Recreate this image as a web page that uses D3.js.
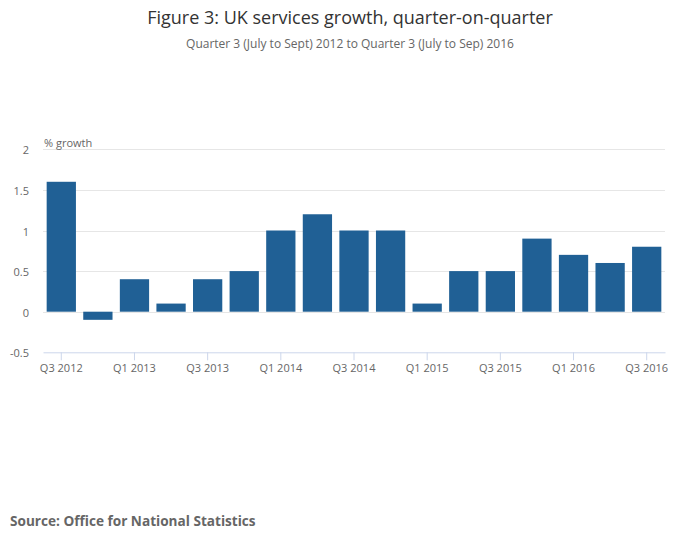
<!DOCTYPE html>
<html><head><meta charset="utf-8">
<script src="https://cdn.jsdelivr.net/npm/d3@7"></script>
<style>
body{margin:0;background:#fff;font-family:"Open Sans",sans-serif;}
</style></head>
<body><svg id="chart" width="700" height="549"></svg>
<script>
const categories = ["Q3 2012","Q4 2012","Q1 2013","Q2 2013","Q3 2013","Q4 2013","Q1 2014","Q2 2014","Q3 2014","Q4 2014","Q1 2015","Q2 2015","Q3 2015","Q4 2015","Q1 2016","Q2 2016","Q3 2016"];
const values = [1.6,-0.1,0.4,0.1,0.4,0.5,1.0,1.2,1.0,1.0,0.1,0.5,0.5,0.9,0.7,0.6,0.8];
const tickLabels = ["Q3 2012","Q1 2013","Q3 2013","Q1 2014","Q3 2014","Q1 2015","Q3 2015","Q1 2016","Q3 2016"];
const yTicks = [-0.5,0,0.5,1,1.5,2];

(function(){
const svg = d3.select("#chart");
const pL = 43, pR = 665, pT = 149.3, pB = 352.3;

const x = d3.scaleBand().domain(categories).range([pL, pR]).paddingInner(0.2).paddingOuter(0.1);
const xc = d3.scaleBand().domain(categories).range([pL, pR]);
const y = d3.scaleLinear().domain([-0.5, 2]).range([pB, pT]);

svg.append("text").attr("x",350).attr("y",24).attr("text-anchor","middle")
  .attr("font-size",18).attr("fill","#333").text("Figure 3: UK services growth, quarter-on-quarter");
svg.append("text").attr("x",350).attr("y",48).attr("text-anchor","middle")
  .attr("font-size",12).attr("fill","#666").text("Quarter 3 (July to Sept) 2012 to Quarter 3 (July to Sep) 2016");

svg.append("g").selectAll("line").data(yTicks.filter(d=>d>-0.5)).join("line")
  .attr("x1",pL).attr("x2",pR).attr("y1",d=>Math.round(y(d))+0.5).attr("y2",d=>Math.round(y(d))+0.5)
  .attr("stroke","#e6e6e6").attr("stroke-width",1);

svg.append("g").selectAll("text").data(yTicks).join("text")
  .attr("x",29).attr("y",d=>y(d)+5).attr("text-anchor","end")
  .attr("font-size",11).attr("fill","#666").text(d=>String(d));

svg.append("text").attr("x",44).attr("y",147).attr("font-size",11).attr("fill","#666").text("% growth");

svg.append("g").selectAll("rect").data(values).join("rect")
  .attr("x",(d,i)=>x(categories[i]))
  .attr("width",x.bandwidth())
  .attr("y",d=>y(Math.max(0,d)))
  .attr("height",d=>Math.abs(y(d)-y(0)))
  .attr("fill","#206095");

const xAxis = d3.axisBottom(xc).tickValues(tickLabels).tickSize(8).tickSizeOuter(0).tickPadding(4);
const gx = svg.append("g").attr("transform",`translate(0,${pB})`).call(xAxis);
gx.select(".domain").attr("stroke","#ccd6eb");
gx.selectAll(".tick line").attr("stroke","#ccd6eb");
gx.selectAll(".tick text").attr("font-size",11).attr("fill","#666").attr("font-family","Open Sans");

svg.append("text").attr("x",10).attr("y",526).attr("font-size",13.6).attr("font-weight","bold")
  .attr("fill","#666").text("Source: Office for National Statistics");
})();
</script></body></html>
